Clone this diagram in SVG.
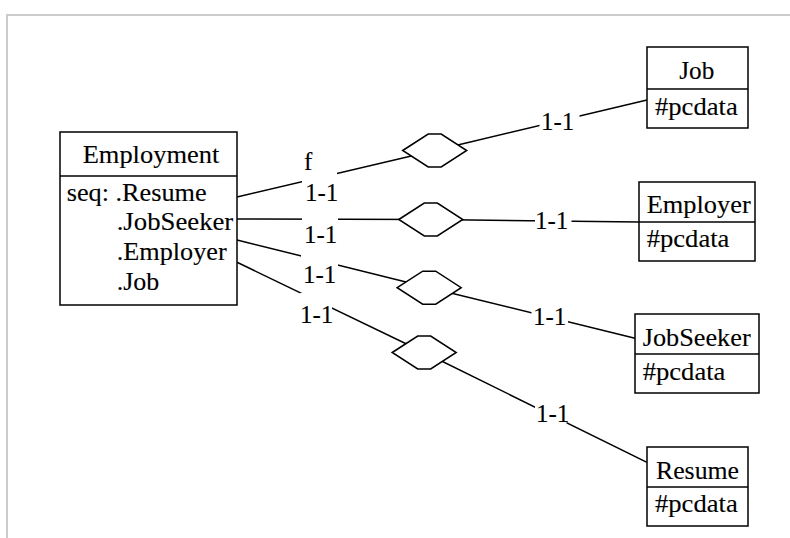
<svg xmlns="http://www.w3.org/2000/svg" width="790" height="538" viewBox="0 0 790 538" font-family="'Liberation Serif', 'Times New Roman', Times, serif">
<style>
text{font-family:'Liberation Serif','Times New Roman',Times,serif;font-size:24.5px;fill:#000;stroke:#000;stroke-width:0.12}
.box{fill:#fff;stroke:#000;stroke-width:1.5}
.div{stroke:#000;stroke-width:1.5}
.edge{stroke:#000;stroke-width:1.5;fill:none}
.dia{fill:#fff;stroke:#000;stroke-width:1.5}
.mask{fill:#fff;stroke:none}
.lbl{font-size:25px}
.frame{stroke:#ccc;stroke-width:2;fill:none}
</style>
<path class="frame" d="M790 15H7V538"/>
<g id="connectors">
<path class="edge" d="M237 197L434.7 150.5"/>
<path class="edge" d="M434.7 150.5L647 100"/>
<path class="edge" d="M237 219L430.8 219.5"/>
<path class="edge" d="M430.8 219.5L639 222"/>
<path class="edge" d="M237 240L429.2 287.7"/>
<path class="edge" d="M429.2 287.7L635 338.3"/>
<path class="edge" d="M237 262.3L424.2 352.5"/>
<path class="edge" d="M424.2 352.5L647 462.3"/>
<g id="diamonds">
<polygon class="dia" points="402.7,150.5 428.2,134 441.2,134 466.7,150.5 441.2,167 428.2,167"/>
<polygon class="dia" points="398.8,219.5 424.3,203 437.3,203 462.8,219.5 437.3,236 424.3,236"/>
<polygon class="dia" points="397.2,287.7 422.7,271.2 435.7,271.2 461.2,287.7 435.7,304.2 422.7,304.2"/>
<polygon class="dia" points="392.2,352.5 417.7,336 430.7,336 456.2,352.5 430.7,369 417.7,369"/>
</g>
<g id="labels">
<text class="lbl" x="304" y="170">f</text>
<rect class="mask" x="302" y="172" width="35" height="36"/>
<text class="lbl" x="305" y="201">1-1</text>
<rect class="mask" x="302" y="213" width="36" height="37"/>
<text class="lbl" x="304" y="243">1-1</text>
<rect class="mask" x="301" y="255" width="37" height="35"/>
<text class="lbl" x="303" y="283">1-1</text>
<rect class="mask" x="300" y="293" width="32" height="37"/>
<text class="lbl" x="300" y="323">1-1</text>
<rect class="mask" x="539.5" y="110" width="40" height="26"/>
<text class="lbl" x="541" y="130">1-1</text>
<rect class="mask" x="535" y="208" width="36.5" height="26"/>
<text class="lbl" x="535" y="228.5">1-1</text>
<rect class="mask" x="531.5" y="305" width="36.5" height="26"/>
<text class="lbl" x="533" y="325">1-1</text>
<rect class="mask" x="535" y="402" width="31.5" height="26"/>
<text class="lbl" x="536" y="421.5">1-1</text>
</g>
</g>
<g id="Employment">
<rect class="box" x="60" y="132" width="177" height="173"/>
<line class="div" x1="60" y1="176" x2="237" y2="176"/>
<text x="82.7" y="163.3" textLength="136.6" lengthAdjust="spacingAndGlyphs">Employment</text>
<text x="66.7" y="200.5" textLength="140" lengthAdjust="spacingAndGlyphs">seq: .Resume</text>
<text x="116.7" y="230" textLength="116.6" lengthAdjust="spacingAndGlyphs">.JobSeeker</text>
<text x="116.7" y="260" textLength="110" lengthAdjust="spacingAndGlyphs">.Employer</text>
<text x="116.7" y="290" textLength="42.6" lengthAdjust="spacingAndGlyphs">.Job</text>
</g>
<g id="Job">
<rect class="box" x="647" y="47" width="101" height="81"/>
<line class="div" x1="647" y1="89" x2="748" y2="89"/>
<text x="679.3" y="79" textLength="35" lengthAdjust="spacingAndGlyphs">Job</text>
<text x="655" y="115" textLength="82.7" lengthAdjust="spacingAndGlyphs">#pcdata</text>
</g>
<g id="Employer">
<rect class="box" x="639" y="182" width="116" height="79"/>
<line class="div" x1="639" y1="222" x2="755" y2="222"/>
<text x="646.7" y="212.7" textLength="104" lengthAdjust="spacingAndGlyphs">Employer</text>
<text x="646.7" y="247" textLength="82.7" lengthAdjust="spacingAndGlyphs">#pcdata</text>
</g>
<g id="JobSeeker">
<rect class="box" x="635" y="314" width="124" height="79"/>
<line class="div" x1="635" y1="354" x2="759" y2="354"/>
<text x="642.7" y="345.7" textLength="108" lengthAdjust="spacingAndGlyphs">JobSeeker</text>
<text x="642.7" y="380" textLength="82.7" lengthAdjust="spacingAndGlyphs">#pcdata</text>
</g>
<g id="Resume">
<rect class="box" x="647" y="447" width="101" height="79"/>
<line class="div" x1="647" y1="487" x2="748" y2="487"/>
<text x="656" y="479" textLength="83" lengthAdjust="spacingAndGlyphs">Resume</text>
<text x="655" y="512" textLength="82.7" lengthAdjust="spacingAndGlyphs">#pcdata</text>
</g>
</svg>
